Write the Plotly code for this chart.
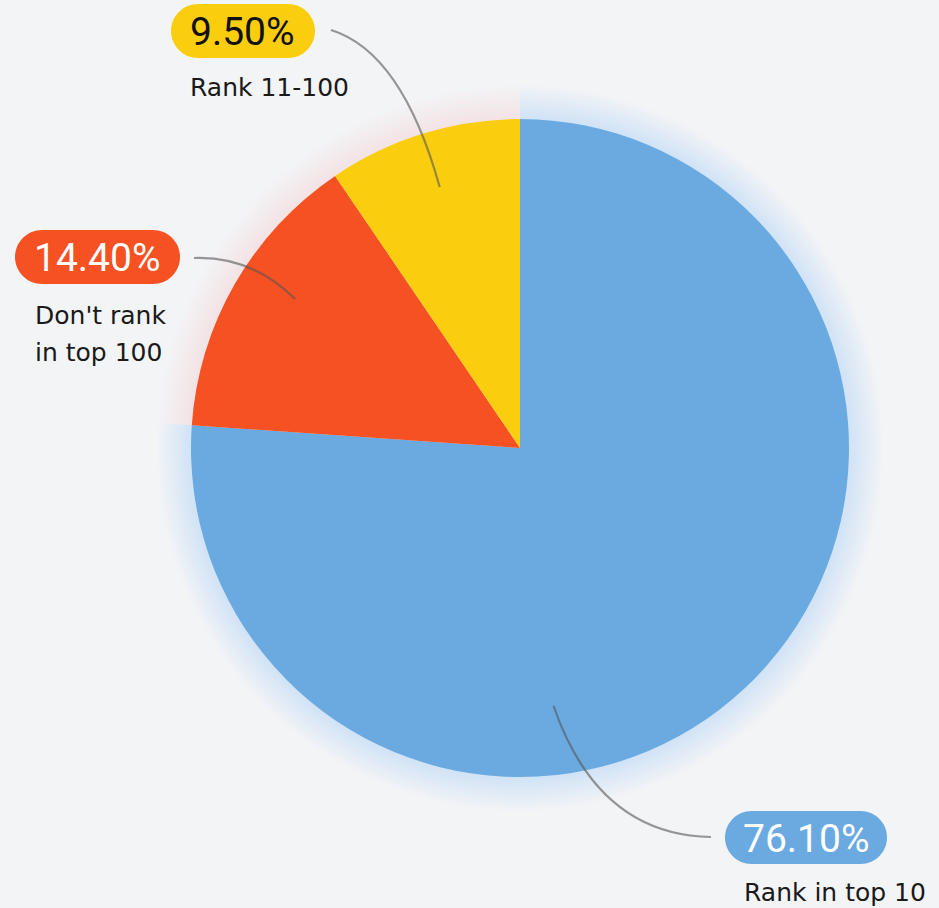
import math
import plotly.graph_objects as go

# Share of pages by ranking position
categories = ["Rank in top 10", "Don't rank<br>in top 100", "Rank 11-100"]
shares = [76.10, 14.40, 9.50]
value_labels = ["76.10%", "14.40%", "9.50%"]

slice_colors = ["#6AAAE0", "#F65122", "#FACD0F"]
glow_colors = ["105,155,225", "220,205,150", "220,190,175"]
pill_text_colors = ["#FFFFFF", "#FFFFFF", "#111111"]

W, H = 939, 908
CX, CY, R = 520, 448, 329          # pie centre / radius in pixels
BG = "#F3F4F6"

# label layout (pixels): pill box, category text start, leader-line endpoints
pill_boxes = [(725, 811, 887, 864), (15, 230, 180, 284), (171, 4, 315, 58)]
cat_text_pos = [(742, 892), (33, 315), (188, 88)]
cat_line_gap = 37
leader_start = [(711, 837), (194, 258), (331, 30)]
leader_ctrl = [(598, 835), (252, 256), (402, 52)]
leader_slice_frac = [0.63, 0.57, 0.5]
leader_radius_frac = [0.79, 0.82, 0.83]


def px(x):
    return x / W


def py(y):
    return 1 - y / H


def pie_domain(radius):
    return dict(x=[px(CX - radius), px(CX + radius)],
                y=[py(CY + radius), py(CY - radius)])


fig = go.Figure()

# soft halo: stacked faint copies slightly larger than the pie
for k in range(34, 0, -2):
    a = 0.011
    fig.add_trace(go.Pie(
        values=shares, labels=categories, sort=False, direction="clockwise",
        rotation=0, textinfo="none", hoverinfo="skip", showlegend=False,
        marker=dict(colors=[f"rgba({c},{a})" for c in glow_colors]),
        domain=pie_domain(R + k)))

fig.add_trace(go.Pie(
    values=shares, labels=categories, sort=False, direction="clockwise",
    rotation=0, textinfo="none", showlegend=False,
    marker=dict(colors=slice_colors, line=dict(width=0)),
    domain=pie_domain(R)))

shapes = []
annotations = []

total = sum(shares)
start = 0.0
for i, v in enumerate(shares):
    span = v / total * 360
    ang = math.radians(start + span * leader_slice_frac[i])
    start += span
    rr = R * leader_radius_frac[i]
    ex, ey = CX + rr * math.sin(ang), CY - rr * math.cos(ang)
    sx, sy = leader_start[i]
    qx, qy = leader_ctrl[i]
    shapes.append(dict(
        type="path", xref="paper", yref="paper", layer="above",
        path=f"M {px(sx)},{py(sy)} Q {px(qx)},{py(qy)} {px(ex)},{py(ey)}",
        line=dict(color="rgba(85,85,85,0.6)", width=2.2)))

    # rounded pill behind the value
    x0, y0, x1, y1 = pill_boxes[i]
    r = (y1 - y0) / 2
    c = 0.552 * r
    path = (f"M {px(x0 + r)},{py(y0)} L {px(x1 - r)},{py(y0)} "
            f"C {px(x1 - r + c)},{py(y0)} {px(x1)},{py(y0 + r - c)} {px(x1)},{py(y0 + r)} "
            f"C {px(x1)},{py(y0 + r + c)} {px(x1 - r + c)},{py(y1)} {px(x1 - r)},{py(y1)} "
            f"L {px(x0 + r)},{py(y1)} "
            f"C {px(x0 + r - c)},{py(y1)} {px(x0)},{py(y1 - r + c)} {px(x0)},{py(y1 - r)} "
            f"C {px(x0)},{py(y0 + r - c)} {px(x0 + r - c)},{py(y0)} {px(x0 + r)},{py(y0)} Z")
    shapes.append(dict(type="path", xref="paper", yref="paper", layer="above",
                       path=path, fillcolor=slice_colors[i], line=dict(width=0)))
    annotations.append(dict(
        x=px((x0 + x1) / 2), y=py((y0 + y1) / 2 + 1), xref="paper", yref="paper",
        text=value_labels[i], showarrow=False, xanchor="center", yanchor="middle",
        font=dict(family="Roboto", size=39, color=pill_text_colors[i])))

    tx, ty = cat_text_pos[i]
    for j, line in enumerate(categories[i].split("<br>")):
        annotations.append(dict(
            x=px(tx), y=py(ty + j * cat_line_gap), xref="paper", yref="paper",
            text=line, showarrow=False, xanchor="left", yanchor="middle",
            font=dict(family="DejaVu Sans", size=25, color="#1A1A1A")))

fig.update_layout(
    width=W, height=H, margin=dict(l=0, r=0, t=0, b=0),
    paper_bgcolor=BG, plot_bgcolor=BG,
    shapes=shapes, annotations=annotations, showlegend=False)

fig.write_html("out.html")
